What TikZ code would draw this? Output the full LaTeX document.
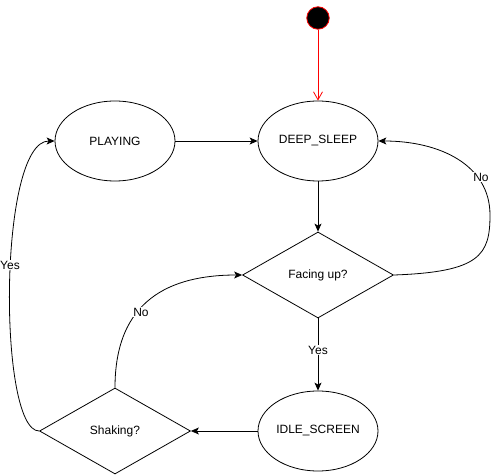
\documentclass[tikz,border=0pt]{standalone}
\usepackage{fontspec}
\setmainfont{Liberation Sans}
\usetikzlibrary{shapes.geometric,arrows.meta}
\begin{document}
\begin{tikzpicture}[x=1pt,y=-1pt,
  every node/.style={font=\fontsize{12}{14}\selectfont},
  state/.style={ellipse,draw,line width=0.8pt,minimum width=120pt,minimum height=80pt,inner sep=0pt},
  decision/.style={diamond,draw,line width=0.8pt,minimum width=151pt,minimum height=86pt,inner sep=0pt},
  conn/.style={line width=0.8pt,-{Stealth[length=8pt,width=7pt,inset=2pt]}},
  lbl/.style={fill=white,inner sep=1pt},
  startnode/.style={circle,fill=black,draw=red,line width=0.8pt,minimum size=22.5pt,inner sep=0pt}
]
\useasboundingbox (0,0) rectangle (491,476);
\node[startnode] (start) at (318,18) {};
\node[state] (ds) at (318,141) {DEEP\_SLEEP};
\node[state] (pl) at (115,141) {PLAYING};
\node[decision] (fu) at (318,275) {Facing up?};
\node[state] (idle) at (318,431) {IDLE\_SCREEN};
\node[decision] (sh) at (115,431) {Shaking?};

\draw[red,line width=0.8pt,-{Straight Barb[length=8pt,width=9pt]}] (start) -- (ds);
\draw[conn] (pl) -- (ds);
\draw[conn] (ds) -- (fu);
\draw[conn] (fu) -- node[lbl,pos=0.44] {Yes} (idle);
\draw[conn] (idle) -- (sh);
\draw[conn] (fu.east) .. controls (480,272) and (490,255) .. (490,215)
  .. controls (490,165) and (440,141) .. (ds.east);
\node[lbl] (no1) at (481,177) {No};
\draw[conn] (sh.north) .. controls (115,300) and (170,275) .. (fu.west);
\node[lbl] (no2) at (141,312) {No};
\draw[conn] (sh.west) .. controls (-2,431) and (-2,141) .. (pl.west);
\node[lbl] (yes2) at (10,265) {Yes};
\end{tikzpicture}
\end{document}
